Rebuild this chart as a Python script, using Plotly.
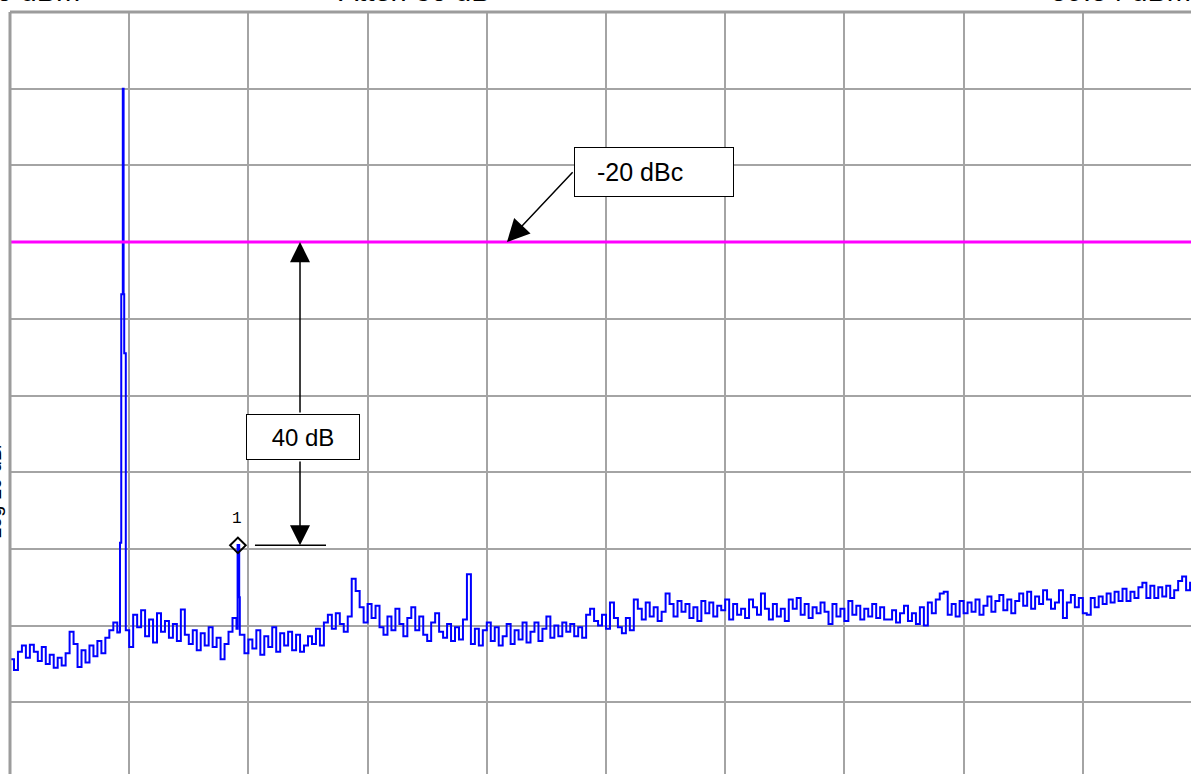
import numpy as np
import plotly.graph_objects as go

# ---------------- data ----------------
ref_level_dbm = 10.0
db_per_div = 10.0
start_div, stop_div = 0.0, 10.0          # horizontal position in graticule divisions
limit_dbm = -20.0                        # -20 dBc limit line (carrier at 0 dBm)
marker_freq_div = 1.912
marker_level_dbm = -59.54

# swept trace (301 points across 10 divisions), dBm
noise_dbm = [
    -74.4, -75.8, -73.4, -72.6, -74.2, -72.5, -73.4, -74.6, -72.8, -75.0,
    -73.8, -75.5, -74.2, -75.2, -73.6, -70.8, -72.4, -75.4, -73.2, -74.8,
    -72.6, -74.0, -72.0, -73.6, -71.6, -70.6, -69.6, -70.9,
    -26.8, -34.5,
    -72.8, -68.6, -70.2, -68.0, -71.4, -69.2, -72.2, -68.4, -70.8, -69.4,
    -71.6, -69.8, -72.0, -67.9, -71.2, -72.4, -70.6, -73.2, -71.0, -72.6,
    -70.2, -72.8, -71.6, -74.4, -72.4, -70.8, -69.0, -70.4,
    -71.2, -73.6, -71.8, -73.0, -70.6, -73.8, -71.4, -72.8, -70.2, -73.4,
    -71.0, -72.6, -70.8, -73.2, -71.2, -73.4,
    -72.6, -71.4, -72.4, -70.4, -72.6, -69.6, -68.6, -70.4, -68.4, -69.8,
    -70.8, -68.8,
    -63.9, -65.5,
    -67.6, -69.6, -67.2, -69.0, -67.4, -70.2, -71.2, -68.8, -70.6, -67.8,
    -69.8, -71.4, -69.0, -67.6, -70.6, -68.8, -71.2, -72.0,
    -69.6, -68.4, -70.8, -71.6, -69.8, -72.0, -70.2, -71.8, -69.2,
    -63.3,
    -72.4, -70.4, -72.6, -70.6, -69.6, -72.0,
    -70.2, -72.6, -71.4, -69.8, -72.4, -70.6, -71.8, -69.6, -72.2, -70.8,
    -69.6, -72.0, -70.4, -68.8, -71.6, -70.0, -71.4, -69.6, -70.8, -69.8,
    -71.4, -70.2, -71.6, -68.6, -67.8, -69.4,
    -70.0, -68.6, -70.4, -67.0, -69.0, -70.2, -71.0, -69.0, -70.6,
    -66.6, -67.8, -69.2, -67.0, -68.8, -67.6, -69.4, -68.2, -65.8, -67.2,
    -68.8, -66.8, -68.2, -67.2, -69.0, -67.6, -69.4, -66.8, -68.4, -67.0,
    -68.8, -67.4, -68.0, -66.6, -69.2, -67.2, -68.6, -67.8, -69.0, -66.6,
    -67.6, -68.6, -65.8, -67.8, -69.2, -67.2, -68.8, -67.8, -69.4, -66.6,
    -67.8, -66.4, -68.6, -67.2, -69.0, -67.6, -68.4, -67.0, -68.2, -69.8,
    -67.2, -68.8, -67.8, -69.4, -66.8, -68.6, -67.4, -69.2, -67.8, -68.8,
    -67.2, -69.0, -67.6, -69.2,
    -69.2, -68.0, -69.6, -68.4, -67.4, -69.4, -68.4, -69.8, -67.6, -70.0,
    -67.0, -68.4, -66.6, -65.8, -65.6, -68.6, -67.2, -68.8, -66.8, -68.4,
    -67.0, -68.2, -66.6, -68.6, -67.4, -66.2, -68.2, -66.8, -66.0, -68.0,
    -66.6, -68.4, -66.8, -65.8, -67.4, -65.6, -67.8, -66.2, -67.2, -65.4,
    -66.6, -67.8, -67.0, -65.4, -69.0, -67.0, -66.0, -67.6, -66.4, -68.4,
    -68.6, -66.4, -67.6, -66.2, -67.2, -65.8, -67.0, -65.6, -66.8, -65.2,
    -66.8, -65.6, -66.4, -65.0, -64.4, -66.4, -64.8, -66.4, -65.0, -66.2,
    -64.8, -66.4, -65.4, -64.2, -63.6, -65.4, -64.4, -65.6, -64.6, -65.2,
]

# carrier detail (between sweep points)
carrier_freq_div = [0.9195, 0.9228, 0.9463, 0.9530, 0.9581, 0.9715]
carrier_dbm = [-70.8, -59.2, 0.0, -26.8, -34.5, -70.6]

# spur under marker 1
spur_freq_div = [1.9094, 1.9228, 1.9279]
spur_dbm = [-59.5, -66.3, -71.2]

# ---------------- build ----------------
sweep_freq = np.linspace(start_div, stop_div, len(noise_dbm))
all_f = np.concatenate([sweep_freq, carrier_freq_div, spur_freq_div])
all_y = np.concatenate([noise_dbm, carrier_dbm, spur_dbm])
order = np.argsort(all_f, kind="stable")
all_f, all_y = all_f[order], all_y[order]

W, H = 1191, 774
ML, MT = 10, 12
px_per_div_x = 119.2
px_per_div_y = 76.7
x_range = [start_div, (W - ML) / px_per_div_x]
y_range = [ref_level_dbm - (H - MT) / px_per_div_y * db_per_div, ref_level_dbm]

FONT = "Liberation Sans, Arial, sans-serif"
GRID = "#a4a4a4"

fig = go.Figure()
fig.add_trace(go.Scatter(
    x=all_f, y=all_y, mode="lines",
    line=dict(color="#0000ff", width=2, shape="hv"),
    hoverinfo="skip", showlegend=False,
))
fig.add_trace(go.Scatter(
    x=[marker_freq_div], y=[marker_level_dbm], mode="markers",
    marker=dict(symbol="diamond-open", size=12, color="black",
                line=dict(color="black", width=2)),
    hoverinfo="skip", showlegend=False,
))

shapes = [
    # limit line
    dict(type="line", xref="paper", yref="y", x0=0, x1=1,
         y0=limit_dbm, y1=limit_dbm, line=dict(color="#ff00ff", width=3),
         layer="above"),
    # graticule border (left, top)
    dict(type="line", xref="paper", yref="paper", x0=0, x1=0, y0=0, y1=1,
         line=dict(color="#9c9c9c", width=3), layer="above"),
    dict(type="line", xref="paper", yref="paper", x0=0, x1=1, y0=1, y1=1,
         line=dict(color="#9c9c9c", width=3), layer="above"),
    # reference line next to marker
    dict(type="line", xref="x", yref="y", x0=2.055, x1=2.651,
         y0=marker_level_dbm, y1=marker_level_dbm,
         line=dict(color="black", width=1.5), layer="above"),
]

arrow_x = 2.433
NB = "\u00a0"
annotations = [
    # 40 dB double arrow
    dict(x=arrow_x, y=limit_dbm, ax=arrow_x, ay=-42.4, xref="x", yref="y",
         axref="x", ayref="y", text="", showarrow=True, arrowhead=2,
         arrowsize=2.67, arrowwidth=1.5, arrowcolor="black", standoff=0),
    dict(x=arrow_x, y=marker_level_dbm, ax=arrow_x, ay=-48.4, xref="x", yref="y",
         axref="x", ayref="y", text="", showarrow=True, arrowhead=2,
         arrowsize=2.67, arrowwidth=1.5, arrowcolor="black", standoff=0),
    dict(x=2.458, y=-45.4, xref="x", yref="y", text="40 dB", showarrow=False,
         font=dict(family=FONT, size=24, color="black"),
         bgcolor="white", bordercolor="black", borderwidth=1,
         width=112, height=44, borderpad=0),
    # -20 dBc callout
    dict(x=4.169, y=limit_dbm, ax=4.732, ay=-10.7, xref="x", yref="y",
         axref="x", ayref="y", text="", showarrow=True, arrowhead=2,
         arrowsize=3.0, arrowwidth=1.5, arrowcolor="black", standoff=0),
    dict(x=5.403, y=-10.8, xref="x", yref="y",
         text="-20 dBc" + NB * 4, showarrow=False,
         font=dict(family=FONT, size=25, color="black"),
         bgcolor="white", bordercolor="black", borderwidth=1,
         width=158, height=48, borderpad=0),
    # marker number
    dict(x=marker_freq_div, y=marker_level_dbm, xref="x", yref="y", text="1",
         showarrow=False, yshift=26, xshift=-1,
         font=dict(family="Liberation Mono, monospace", size=16, color="black")),
    # instrument header (cut off by the crop)
    dict(x=0, y=1, xref="paper", yref="paper", text="Ref 10 dBm",
         xanchor="right", yanchor="bottom", xshift=72, yshift=3, showarrow=False,
         font=dict(family=FONT, size=29, color="black")),
    dict(x=(415 - ML) / (W - ML), y=1, xref="paper", yref="paper", text="Atten 30 dB",
         xanchor="center", yanchor="bottom", yshift=3, showarrow=False,
         font=dict(family=FONT, size=29, color="black")),
    dict(x=1, y=1, xref="paper", yref="paper", text="-59.54 dBm",
         xanchor="right", yanchor="bottom", yshift=3, xshift=2, showarrow=False,
         font=dict(family=FONT, size=29, color="black")),
    dict(x=0, y=(H - 491) / (H - MT), xref="paper", yref="paper", text="Log 10 dB/",
         textangle=-90, xanchor="right", yanchor="middle", xshift=-3,
         showarrow=False, font=dict(family=FONT, size=20, color="black")),
]

fig.update_layout(
    width=W, height=H,
    margin=dict(l=ML, r=0, t=MT, b=0, pad=0),
    paper_bgcolor="white", plot_bgcolor="white",
    showlegend=False,
    shapes=shapes, annotations=annotations,
    xaxis=dict(range=x_range, tick0=0, dtick=1, showgrid=True, gridcolor=GRID,
               gridwidth=2, zeroline=False, showticklabels=False, ticks="",
               showline=False, fixedrange=True),
    yaxis=dict(range=y_range, tick0=ref_level_dbm, dtick=db_per_div, showgrid=True,
               gridcolor=GRID, gridwidth=2, zeroline=False, showticklabels=False,
               ticks="", showline=False, fixedrange=True),
)

fig.write_html("out.html", config={"displayModeBar": False},
               post_script="document.body.style.margin='0';document.body.style.overflow='hidden';")
